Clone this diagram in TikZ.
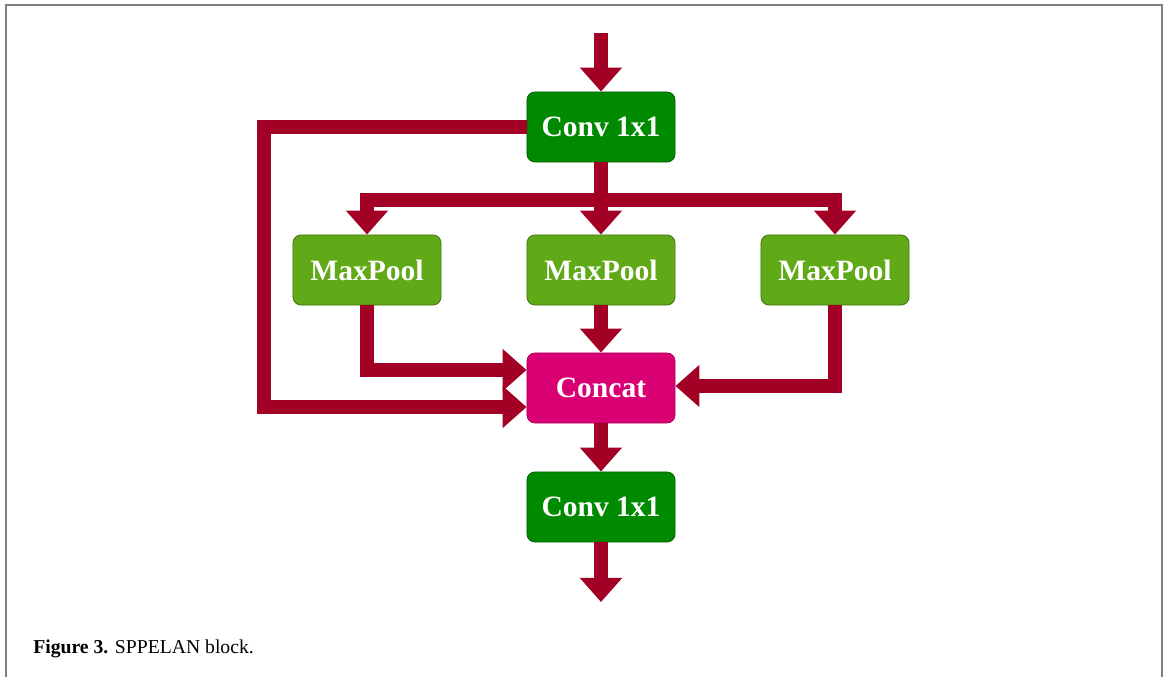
\documentclass[tikz,border=0pt]{standalone}
\usepackage{fontspec}
\setmainfont{Liberation Serif}
\usetikzlibrary{positioning}
\usetikzlibrary{arrows.meta}
\definecolor{convgreen}{RGB}{0,138,0}
\definecolor{poolgreen}{RGB}{96,169,23}
\definecolor{catpink}{RGB}{216,0,115}
\definecolor{pipered}{RGB}{162,0,37}

\begin{document}
\begin{tikzpicture}[x=0.025cm, y=-0.025cm,
    block/.style={rectangle, rounded corners=0.2cm, minimum width=3.7cm, minimum height=1.75cm,
                  text=white, font=\fontsize{21}{24}\selectfont\bfseries, line width=0.6pt},
    conv/.style={block, fill=convgreen, draw=convgreen!70!black},
    pool/.style={block, fill=poolgreen, draw=poolgreen!70!black},
    cat/.style={block, fill=catpink, draw=catpink!80!black},
    pipe/.style={draw=pipered, line width=0.35cm, line join=miter,
                 -{Triangle[width=1.02cm, length=0.6cm]}}]
     \useasboundingbox (0,0) rectangle (1166,677);
     \draw [gray, line width=1.5pt] (6,677) -- (6,5) -- (1162,5) -- (1162,677);

     % blocks
     \node [conv] (conv1) at (601,127) {Conv 1x1};
     \node [pool] (pool1) at (367,270) {MaxPool};
     \node [pool] (pool2) at (601,270) {MaxPool};
     \node [pool] (pool3) at (835,270) {MaxPool};
     \node [cat] (concat) at (601,388) {Concat};
     \node [conv] (conv2) at (601,507) {Conv 1x1};
     \coordinate (in) at (601,33);
     \coordinate (out) at (601,602);
     \coordinate (split) at (601,200);
     \coordinate (skip) at (264,127);

     % connectors
     \draw [pipe] (in) -- (conv1);
     \draw [pipe] (split) -| (pool1);
     \draw [pipe] (split) -| (pool3);
     \draw [pipe] (conv1) -- (pool2);
     \draw [pipe] (conv1.west) -- (skip) |- ([yshift=-0.475cm]concat.west);
     \draw [pipe] (pool1) |- ([yshift=0.45cm]concat.west);
     \draw [pipe] (pool2) -- (concat);
     \draw [pipe] (pool3) |- ([yshift=0.05cm]concat.east);
     \draw [pipe] (concat) -- (conv2);
     \draw [pipe] (conv2) -- (out);

     % caption
     \node [anchor=base west, inner sep=0pt, font=\fontsize{14}{16}\selectfont] (caption) at (33,653)
           {\textbf{Figure 3.} SPPELAN block.};
\end{tikzpicture}
\end{document}
